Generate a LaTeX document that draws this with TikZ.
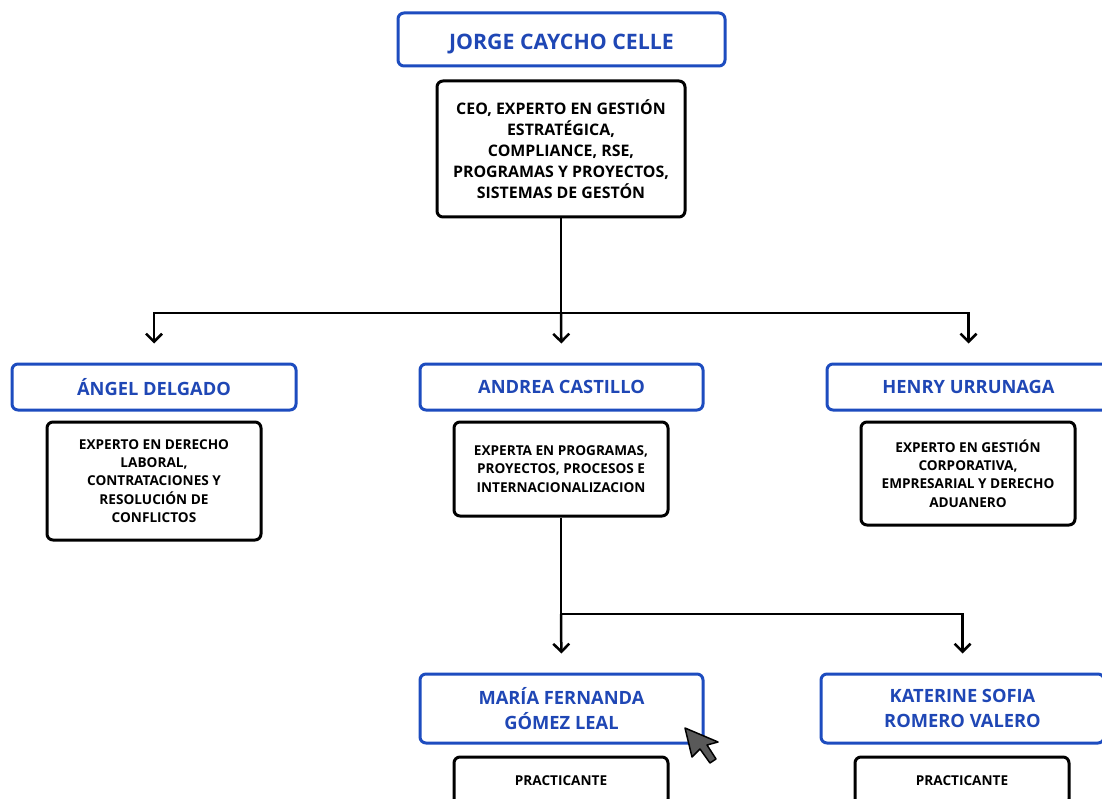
\documentclass[tikz,border=0pt]{standalone}
\usepackage{fontspec}
\setmainfont{Open Sans}
\usetikzlibrary{arrows.meta}
\definecolor{nblue}{HTML}{1D4CBF}
\definecolor{ntext}{HTML}{1F47B5}
\tikzset{
  namebox/.style={draw=nblue, line width=3pt, rounded corners=6pt, fill=white, align=center, text=ntext, font=\bfseries\fontsize{18.3}{25}\selectfont, inner sep=0pt},
  descbox/.style={draw=black, line width=3pt, rounded corners=6pt, fill=white, align=center, text=black, font=\bfseries\fontsize{13.6}{18.3}\selectfont, inner sep=0pt},
  conn/.style={line width=2.5pt, black},
  arr/.style={line width=2.5pt, black, -{Straight Barb[length=8pt,width=16pt]}, shorten >=19pt},
}
\begin{document}
\begin{tikzpicture}[x=1pt,y=-1pt]
\useasboundingbox (0,0) rectangle (1102,799);
\clip (0,0) rectangle (1102,799);

\node[namebox, minimum width=327pt, minimum height=53pt, font=\bfseries\fontsize{21.3}{25}\selectfont, text height=21pt, text depth=0pt] (jorge) at (561.5,39.5) {JORGE CAYCHO CELLE};
\node[descbox, minimum width=248pt, minimum height=136pt, font=\bfseries\fontsize{15.9}{21}\selectfont] (ceo) at (561,149) {CEO, EXPERTO EN GESTIÓN\\ESTRATÉGICA,\\COMPLIANCE, RSE,\\PROGRAMAS Y PROYECTOS,\\SISTEMAS DE GESTÓN};

\node[namebox, minimum width=284pt, minimum height=46pt] (angel) at (154,387) {ÁNGEL DELGADO};
\node[namebox, minimum width=283pt, minimum height=46pt] (andrea) at (561.5,387) {ANDREA CASTILLO};
\node[namebox, minimum width=283pt, minimum height=46pt] (henry) at (968.5,387) {HENRY URRUNAGA};

\node[descbox, minimum width=214pt, minimum height=118pt] (angeld) at (154,481) {EXPERTO EN DERECHO\\LABORAL,\\CONTRATACIONES Y\\RESOLUCIÓN DE\\CONFLICTOS};
\node[descbox, minimum width=214pt, minimum height=94pt] (andread) at (561,469) {EXPERTA EN PROGRAMAS,\\PROYECTOS, PROCESOS E\\INTERNACIONALIZACION};
\node[descbox, minimum width=214pt, minimum height=103pt] (henryd) at (968,473.5) {EXPERTO EN GESTIÓN\\CORPORATIVA,\\EMPRESARIAL Y DERECHO\\ADUANERO};

\node[namebox, minimum width=283pt, minimum height=69pt] (maria) at (561.5,708.5) {MARÍA FERNANDA\\GÓMEZ LEAL};
\node[namebox, minimum width=283pt, minimum height=69pt] (katerine) at (962.5,708.5) {KATERINE SOFIA\\ROMERO VALERO};

\node[descbox, minimum width=214pt, minimum height=48pt] (mariap) at (561,781) {PRACTICANTE};
\node[descbox, minimum width=214pt, minimum height=48pt] (katerinep) at (962,781) {PRACTICANTE};

\coordinate (j1) at (561,313);
\draw[conn] (ceo.south) -- (j1);
\draw[arr] (j1) -| (angel.north);
\draw[arr] (j1) -- (andrea.north);
\draw[arr] (j1) -| (henry.north);

\coordinate (j2) at (561,614);
\draw[conn] (andread.south) -- (j2);
\draw[arr] (j2) -- (maria.north);
\draw[arr] (j2) -| (katerine.north);

% mouse cursor
\draw[fill=black!65, draw=black, line width=1.5pt, line join=round]
  (685,728) -- (692,757) -- (700,749) -- (710,763) -- (716,759) -- (707,745) -- (718,742) -- cycle;
\end{tikzpicture}
\end{document}
